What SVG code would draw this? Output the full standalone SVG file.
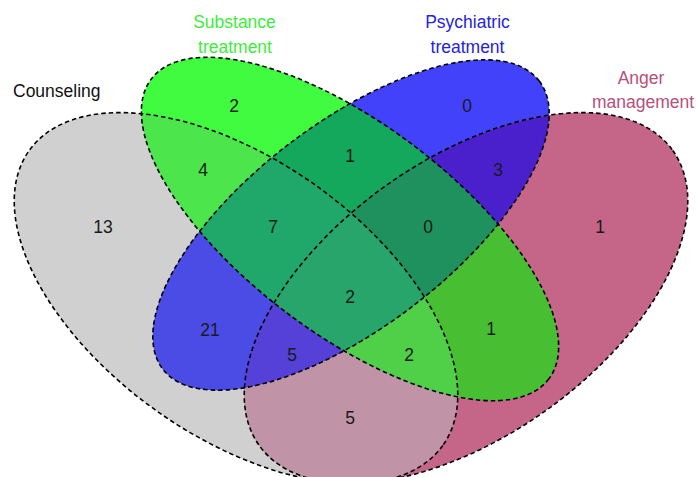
<svg xmlns="http://www.w3.org/2000/svg" width="696" height="477" viewBox="0 0 696 477">
<style>
.ol{fill:none;stroke:#000;stroke-width:1.6;stroke-dasharray:4.5 3}
.t{font-family:"Liberation Sans",Arial,sans-serif;font-size:17.5px}
.n{font-family:"Liberation Sans",Arial,sans-serif;font-size:17.5px;fill:#1a1a1a;text-anchor:middle}
.m{text-anchor:middle}
</style>
<defs>
<ellipse id="eC" cx="0" cy="0" rx="254" ry="138" transform="translate(236 298) rotate(35.5)"/>
<ellipse id="eS" cx="0" cy="0" rx="249" ry="105" transform="translate(350 229) rotate(37)"/>
<ellipse id="eP" cx="0" cy="0" rx="237" ry="102" transform="translate(351 225) rotate(-37.4)"/>
<ellipse id="eA" cx="0" cy="0" rx="254" ry="138" transform="translate(466 298) rotate(-35.5)"/>
<clipPath id="kC"><ellipse cx="0" cy="0" rx="254" ry="138" transform="translate(236 298) rotate(35.5)"/></clipPath>
<clipPath id="kS"><ellipse cx="0" cy="0" rx="249" ry="105" transform="translate(350 229) rotate(37)"/></clipPath>
<clipPath id="kP"><ellipse cx="0" cy="0" rx="237" ry="102" transform="translate(351 225) rotate(-37.4)"/></clipPath>
</defs>
<rect width="696" height="477" fill="#fff"/>
<g id="regions">
<use href="#eC" fill="#d0d0d0"/>
<use href="#eS" fill="#41fb41"/>
<use href="#eP" fill="#4242fb"/>
<use href="#eA" fill="#c56689"/>
<g clip-path="url(#kC)"><use href="#eS" fill="#4ce64c"/></g>
<g clip-path="url(#kC)"><use href="#eP" fill="#4b4be6"/></g>
<g clip-path="url(#kC)"><use href="#eA" fill="#c094a6"/></g>
<g clip-path="url(#kS)"><use href="#eP" fill="#13a85b"/></g>
<g clip-path="url(#kS)"><use href="#eA" fill="#48bf32"/></g>
<g clip-path="url(#kP)"><use href="#eA" fill="#4a20cc"/></g>
<g clip-path="url(#kC)"><g clip-path="url(#kS)"><use href="#eP" fill="#1fa86a"/></g></g>
<g clip-path="url(#kC)"><g clip-path="url(#kS)"><use href="#eA" fill="#50d048"/></g></g>
<g clip-path="url(#kC)"><g clip-path="url(#kP)"><use href="#eA" fill="#5540d8"/></g></g>
<g clip-path="url(#kS)"><g clip-path="url(#kP)"><use href="#eA" fill="#1e915e"/></g></g>
<g clip-path="url(#kC)"><g clip-path="url(#kS)"><g clip-path="url(#kP)"><use href="#eA" fill="#28a56a"/></g></g></g>
</g>
<g id="counseling">
<use href="#eC" class="ol"/>
<text class="t" x="13" y="97" fill="#111">Counseling</text>
</g>
<g id="substance">
<use href="#eS" class="ol"/>
<text class="t m" x="234.5" y="27.5" fill="#3ded3d">Substance</text>
<text class="t m" x="235" y="53" fill="#3ded3d">treatment</text>
</g>
<g id="psychiatric">
<use href="#eP" class="ol"/>
<text class="t m" x="467.5" y="27.5" fill="#2424dc">Psychiatric</text>
<text class="t m" x="467.5" y="53" fill="#2424dc">treatment</text>
</g>
<g id="anger">
<use href="#eA" class="ol"/>
<text class="t m" x="641" y="83.5" fill="#b5507a">Anger</text>
<text class="t" x="592" y="108" fill="#b5507a">management</text>
</g>
<g id="counts">
<text class="n" x="103" y="233">13</text>
<text class="n" x="234" y="111.5">2</text>
<text class="n" x="203" y="175.5">4</text>
<text class="n" x="350" y="162">1</text>
<text class="n" x="467" y="111.5">0</text>
<text class="n" x="498" y="175.5">3</text>
<text class="n" x="273" y="233">7</text>
<text class="n" x="428" y="233">0</text>
<text class="n" x="600" y="233">1</text>
<text class="n" x="350" y="302.5">2</text>
<text class="n" x="210" y="336">21</text>
<text class="n" x="292" y="360.5">5</text>
<text class="n" x="409" y="360.5">2</text>
<text class="n" x="491" y="335">1</text>
<text class="n" x="350" y="424">5</text>
</g>
</svg>
